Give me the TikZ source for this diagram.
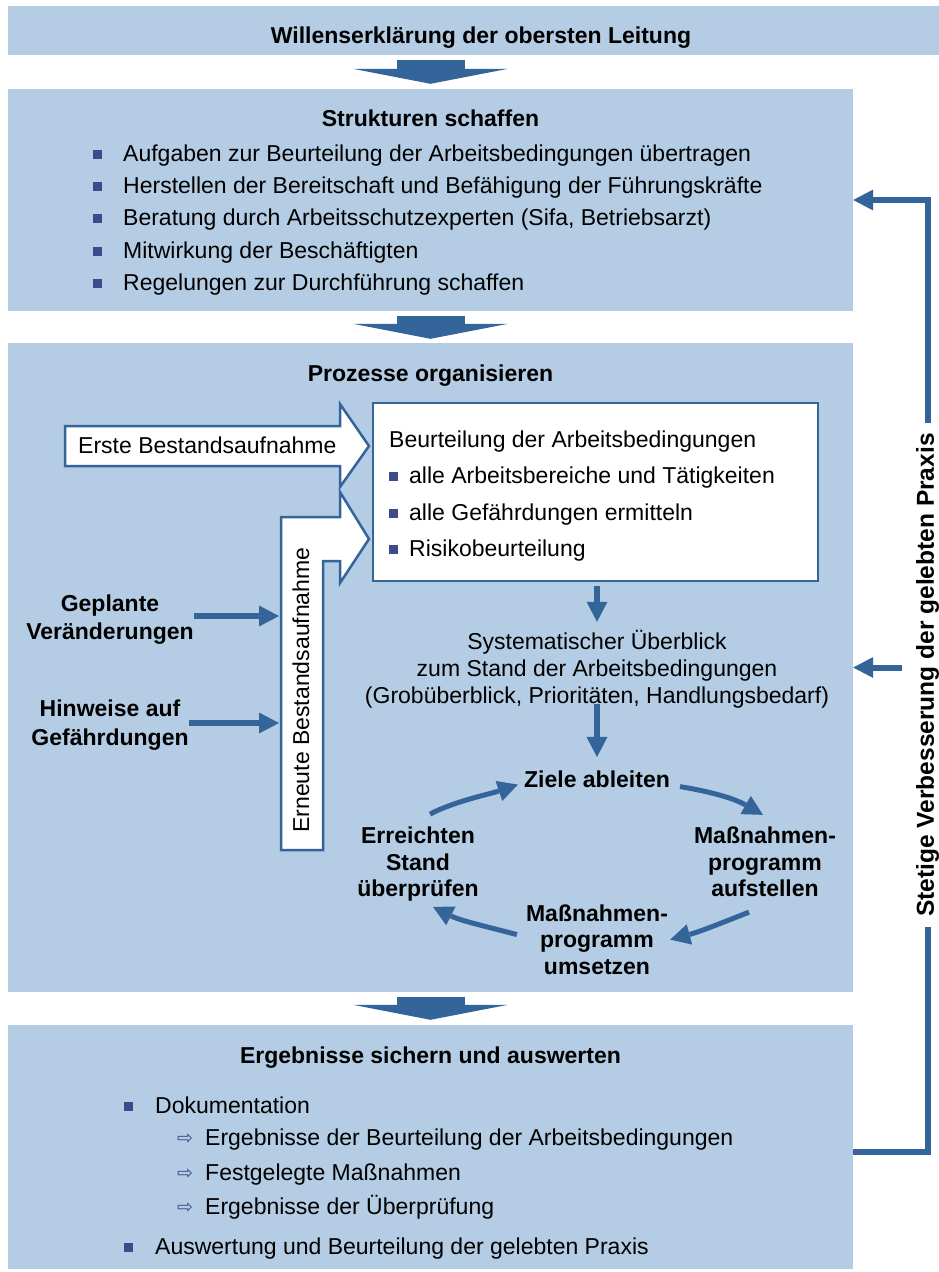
\documentclass[tikz,border=0pt]{standalone}
\usepackage{fontspec}
\setmainfont{Liberation Sans}
\newfontfamily\symbolfont{DejaVu Sans}
\usetikzlibrary{arrows.meta,calc,positioning}
\definecolor{Panel}{HTML}{B4CCE4}
\definecolor{Arrow}{HTML}{33659A}
\definecolor{Bullet}{HTML}{3F4A8C}
\newcommand{\sqbul}[1]{\makebox[#1][l]{\textcolor{Bullet}{\rule[2.5pt]{9pt}{9pt}}}}
\newcommand{\subarr}{\makebox[28pt][l]{\raisebox{1pt}{\symbolfont\fontsize{19}{19}\selectfont\textcolor{Bullet}{⇨}}}}

\begin{document}
\begin{tikzpicture}[x=1pt,y=-1pt,
  every node/.style={inner sep=0pt,font=\fontsize{23}{27}\selectfont},
  panel/.style={fill=Panel,minimum width=845pt},
  title/.style={font=\fontsize{23}{27}\selectfont\bfseries,anchor=base},
  item/.style={anchor=base west},
  source/.style={font=\fontsize{23}{28.5}\selectfont\bfseries,align=center},
  phase/.style={font=\fontsize{23}{26.5}\selectfont\bfseries,align=center},
  hollow/.style={draw=Arrow,fill=white,line width=2.5pt},
  bigarrow/.style={draw=Arrow,line width=68pt,-{Triangle[length=15pt,width=155pt,line width=0pt]}},
  smallarrow/.style={draw=Arrow,line width=6pt,-{Triangle[length=20pt,width=21pt,line width=0pt]}},
  turn/.style={draw=Arrow,line width=5pt,-{Triangle[length=20pt,width=21pt,line width=0pt]}},
  loopline/.style={draw=Arrow,line width=6pt},
  looparrow/.style={loopline,-{Triangle[length=20pt,width=21pt,line width=0pt]}}
]
\useasboundingbox (0,0) rectangle (939,1272);
\fill[white] (0,0) rectangle (939,1272);
\node[panel,minimum width=931pt,minimum height=49pt] (lead) at (473.5,30.5) {};
\node[panel,minimum height=222pt] (struct) at (430.5,200) {};
\node[panel,minimum height=649pt] (proc) at (430.5,667.5) {};
\node[panel,minimum height=244pt] (result) at (430.5,1147) {};
\draw[bigarrow] ($(lead.south -| struct.north)+(0,5)$) -- ($(struct.north)+(0,-5)$);
\draw[bigarrow] ($(struct.south)+(0,5)$) -- ($(proc.north)+(0,-4)$);
\draw[bigarrow] ($(proc.south)+(0,5)$) -- ($(result.north)+(0,-5)$);
\node[title] (leadtxt) at (481,43) {Willenserklärung der obersten Leitung};
\node[title] (structtxt) at (430.5,126) {Strukturen schaffen};
\node[item] (s1) at (93,161) {\sqbul{30pt}Aufgaben zur Beurteilung der Arbeitsbedingungen übertragen};
\node[item] (s2) at (93,193) {\sqbul{30pt}Herstellen der Bereitschaft und Befähigung der Führungskräfte};
\node[item] (s3) at (93,225) {\sqbul{30pt}Beratung durch Arbeitsschutzexperten (Sifa, Betriebsarzt)};
\node[item] (s4) at (93,258) {\sqbul{30pt}Mitwirkung der Beschäftigten};
\node[item] (s5) at (93,290) {\sqbul{30pt}Regelungen zur Durchführung schaffen};
\node[title] (proctxt) at (430.5,381) {Prozesse organisieren};
\draw[hollow] (65,426) -- (340,426) -- (340,404) -- (369,446) -- (340,487) -- (340,466) -- (65,466) -- cycle;
\node[anchor=west] (first) at (78,445) {Erste Bestandsaufnahme};
\draw[hollow] (281,850) -- (281,517) -- (340,517) -- (340,492) -- (369,539) -- (340,583) -- (340,561) -- (323,561) -- (323,850) -- cycle;
\node[rotate=90] (again) at (301,690) {Erneute Bestandsaufnahme};
\node[draw=Arrow,fill=white,line width=2.5pt,minimum width=445pt,minimum height=178pt] (assess) at (595.5,492) {};
\node[item] (a0) at (389,447) {Beurteilung der Arbeitsbedingungen};
\node[item] (a1) at (389,483) {\sqbul{20pt}alle Arbeitsbereiche und Tätigkeiten};
\node[item] (a2) at (389,520) {\sqbul{20pt}alle Gefährdungen ermitteln};
\node[item] (a3) at (389,556) {\sqbul{20pt}Risikobeurteilung};
\node[align=center] (overview) at (597,669) {Systematischer Überblick\\zum Stand der Arbeitsbedingungen\\(Grobüberblick, Prioritäten, Handlungsbedarf)};
\node[source] (planned) at (110,619.5) {Geplante\\Veränderungen};
\node[source] (hints) at (110,725) {Hinweise auf\\Gefährdungen};
\coordinate (stemA) at (279,616);
\coordinate (stemB) at (279,723);
\draw[smallarrow] (planned.east |- stemA) -- (stemA);
\draw[smallarrow] (hints.east |- stemB) -- (stemB);
\node[phase] (goals) at (597,779.6) {Ziele ableiten};
\node[phase] (plan) at (765,862) {Maßnahmen-\\programm\\aufstellen};
\node[phase] (act) at (597,939.6) {Maßnahmen-\\programm\\umsetzen};
\node[phase] (check) at (418,864.5) {Erreichten\\Stand\\überprüfen};
\draw[smallarrow] ($(assess.south -| overview)+(0,4)$) -- ($(overview.north)+(0,-8)$);
\draw[smallarrow] ($(overview.south)+(0,-4)$) -- ($(goals.north)+(0,-14)$);
\draw[turn] ($(goals.east)+(10,7)$) .. controls +(30,5) and +(-30,-17) .. ($(plan.north)+(-2,-12)$);
\draw[turn] ($(plan.south)+(-16,15)$) .. controls +(-28,11) and +(30,-8) .. ($(act.east)+(2,0)$);
\draw[turn] ($(act.west)+(-9,-5)$) .. controls +(-30,-8) and +(28,14) .. ($(check.south)+(15,5)$);
\draw[turn] ($(check.north)+(12,-13)$) .. controls +(25,-13) and +(-30,10) .. ($(goals.west)+(-6,5)$);
\node[title] (resulttxt) at (430.5,1063) {Ergebnisse sichern und auswerten};
\node[item] (r1) at (124,1113) {\sqbul{31pt}Dokumentation};
\node[item] (r1a) at (177,1145) {\subarr Ergebnisse der Beurteilung der Arbeitsbedingungen};
\node[item] (r1b) at (177,1180) {\subarr Festgelegte Maßnahmen};
\node[item] (r1c) at (177,1214) {\subarr Ergebnisse der Überprüfung};
\node[item] (r2) at (124,1254) {\sqbul{31pt}Auswertung und Beurteilung der gelebten Praxis};
\node[rotate=90,font=\fontsize{24.5}{24.5}\selectfont\bfseries] (praxis) at (927.5,675) {Stetige Verbesserung der gelebten Praxis};
\draw[loopline] ($(result.east)+(0,5)$) -| ($(praxis.west)+(0,10)$);
\draw[looparrow] ($(praxis.east)+(0,-10)$) |- (struct.east);
\draw[looparrow] ($(proc.east)+(49,0)$) -- (proc.east);
\end{tikzpicture}
\end{document}
